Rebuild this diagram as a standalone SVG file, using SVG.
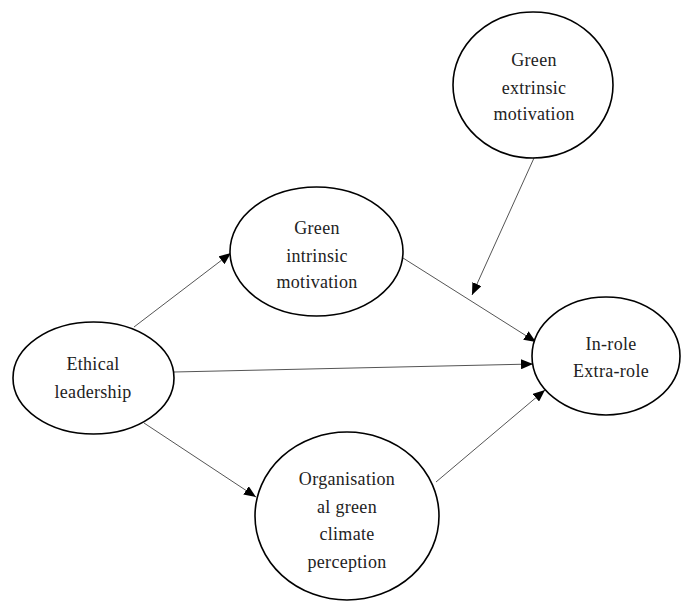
<svg xmlns="http://www.w3.org/2000/svg" width="681" height="601" viewBox="0 0 681 601">
<defs>
<marker id="ah" markerUnits="userSpaceOnUse" markerWidth="12" markerHeight="10" refX="12" refY="5" orient="auto">
<path d="M0,0 L12,5 L0,10 Z" fill="#000"/>
</marker>
<style>
.n{fill:#fff;stroke:#000;stroke-width:1.6}
.t{font-family:"Liberation Serif","DejaVu Serif",serif;font-size:18px;letter-spacing:0.3px;fill:#222;text-anchor:middle}
.c{stroke:#555;stroke-width:1;fill:none;marker-end:url(#ah)}
</style>
</defs>
<rect width="681" height="601" fill="#fff"/>
<g id="connectors">
<line class="c" x1="134" y1="327" x2="231" y2="253"/>
<line class="c" x1="403" y1="258" x2="536" y2="342"/>
<line class="c" x1="534" y1="158" x2="472" y2="295"/>
<line class="c" x1="174" y1="372" x2="533" y2="364"/>
<line class="c" x1="144" y1="423" x2="256" y2="497"/>
<line class="c" x1="436" y1="482" x2="545" y2="390"/>
</g>
<g id="green-extrinsic">
<ellipse class="n" cx="533" cy="85" rx="80" ry="73"/>
<text class="t" x="534" y="66">Green</text>
<text class="t" x="534" y="94">extrinsic</text>
<text class="t" x="534" y="120">motivation</text>
</g>
<g id="green-intrinsic">
<ellipse class="n" cx="316.5" cy="251.5" rx="86.5" ry="64.5"/>
<text class="t" x="317" y="234">Green</text>
<text class="t" x="317" y="262">intrinsic</text>
<text class="t" x="317" y="288">motivation</text>
</g>
<g id="ethical-leadership">
<ellipse class="n" cx="93.5" cy="378" rx="80.5" ry="56"/>
<text class="t" x="93" y="370">Ethical</text>
<text class="t" x="93" y="398">leadership</text>
</g>
<g id="in-extra-role">
<ellipse class="n" cx="606" cy="356" rx="74" ry="59"/>
<text class="t" x="611" y="350">In-role</text>
<text class="t" x="611" y="377">Extra-role</text>
</g>
<g id="org-green-climate">
<ellipse class="n" cx="347" cy="516" rx="92" ry="84"/>
<text class="t" x="347" y="485">Organisation</text>
<text class="t" x="347" y="513">al green</text>
<text class="t" x="347" y="540">climate</text>
<text class="t" x="347" y="568">perception</text>
</g>
</svg>
